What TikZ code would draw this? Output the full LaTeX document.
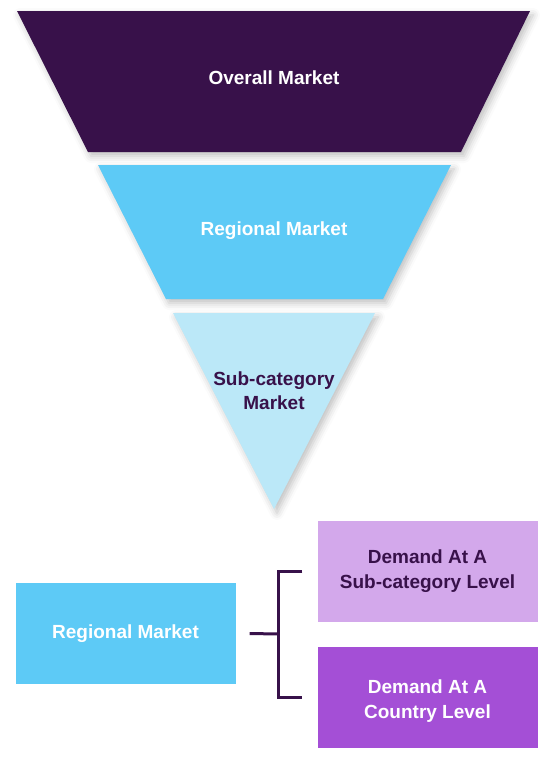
\documentclass[tikz,border=0pt]{standalone}
\usepackage{fontspec}
\setmainfont{Liberation Sans}
\usetikzlibrary{shadows.blur}
\definecolor{dpurple}{HTML}{38114A}
\definecolor{mblue}{HTML}{5DCAF6}
\definecolor{lblue}{HTML}{BBE8F8}
\definecolor{lpurple}{HTML}{D3A8EB}
\definecolor{mpurple}{HTML}{A44FD6}
\tikzset{
  funnel/.style={blur shadow={shadow xshift=3pt, shadow yshift=-4pt, shadow blur radius=7pt, shadow opacity=25}},
  lbl/.style={font=\fontsize{19}{24}\selectfont\bfseries, align=center, inner sep=0pt},
  boxn/.style={minimum width=220pt, minimum height=101pt, inner sep=0pt, align=center, font=\fontsize{19}{25}\selectfont\bfseries},
  bracket/.style={draw=dpurple, line width=3pt}
}
\begin{document}
\begin{tikzpicture}[x=1pt,y=-1pt]
\useasboundingbox (0,0) rectangle (553,758);
% funnel shapes
\path[funnel, fill=dpurple] (17,11) -- (530,11) -- (461,152) -- (88,152) -- cycle;
\path[funnel, fill=mblue] (98,165) -- (451,165) -- (383,299) -- (166,299) -- cycle;
\path[funnel, fill=lblue] (173,313) -- (375,313) -- (274,509) -- cycle;
\node[lbl, text=white] (overall) at (274,78) {Overall Market};
\node[lbl, text=white] (regional) at (274,231) {Regional Market};
\node[lbl, text=dpurple] (subcat) at (274,391) {Sub-category\\Market};
% bottom boxes
\node[boxn, fill=mblue, text=white] (lb) at (125.5,633.5) {\raisebox{-2pt}{Regional Market}};
\node[boxn, fill=lpurple, text=dpurple] (rt) at (427.5,571) {Demand At A\\Sub-category Level};
\node[boxn, fill=mpurple, text=white] (rb) at (427.5,697) {\\[-3pt]Demand At A\\Country Level};
% bracket connector
\coordinate (bar) at (278,634);
\draw[bracket] ([xshift=14pt]lb.east) -- (bar);
\draw[bracket] ([xshift=-15pt]rt.west) -- (rt.west -| bar) -- (rb.west -| bar) -- ([xshift=-15pt]rb.west);
\end{tikzpicture}
\end{document}
